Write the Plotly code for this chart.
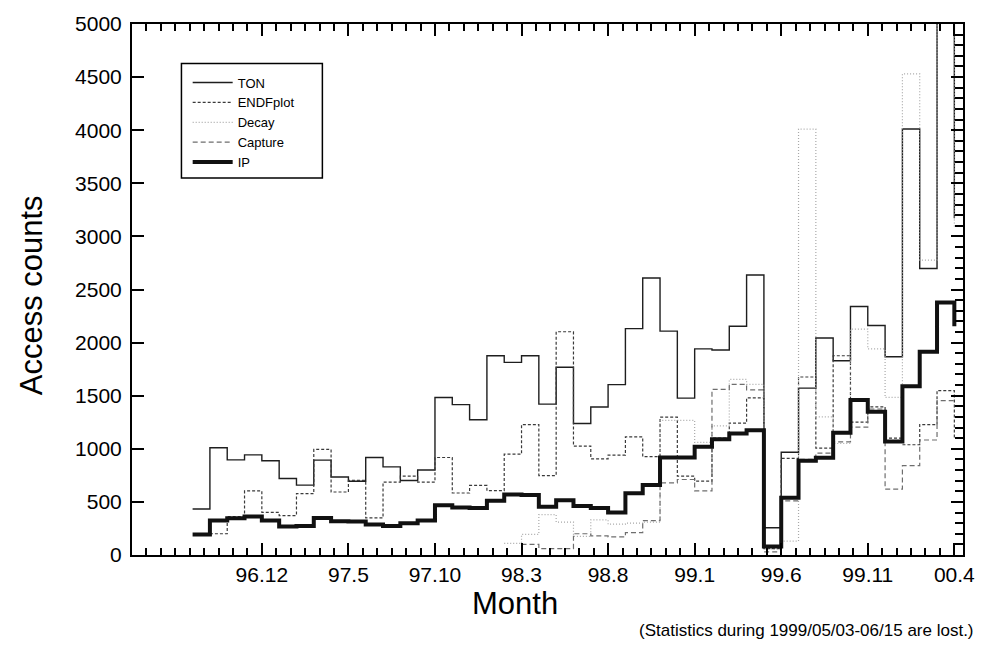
import plotly.graph_objects as go

# month index: 0 = 1996.8 (Aug 1996) ... 44 = 2000.4
months = list(range(45))

ton = [433, 1010, 896, 943, 887, 720, 658, 893, 735, 695,
       918, 830, 702, 800, 1483, 1416, 1273, 1876, 1814, 1876,
       1421, 1768, 1238, 1394, 1604, 2132, 2608, 2108, 1477, 1941,
       1931, 2154, 2636, 256, 967, 1571, 2043, 1829, 2340, 2161,
       1867, 4011, 2698, 5600, 3170]

endf = [None, 200, 362, 603, 402, 371, 578, 995, 593, 702,
        349, 686, 742, 686, 918, 584, 655, 606, 949, 1228,
        748, 2102, 1026, 906, 940, 1112, 927, 1298, 742, 695,
        1100, 1242, 1480, 60, 910, 1676, 1006, 1876, 1252, 1395,
        1100, 1038, 1228, 1548, 1100]

decay = [None, None, None, None, None, None, None, None, None, None,
         None, None, None, None, None, None, None, None, 110, 195,
         380, 309, 176, 331, 290, 300, 310, 1267, 1267, 1060,
         1215, 1653, 1607, 55, 130, 4010, 1300, 1050, 2127, 1941,
         1484, 4530, 2777, 5400, 3080]

capture = [None, None, None, None, None, None, None, None, None, None,
           None, None, None, None, None, None, None, None, None, 100,
           60, 60, 200, 180, 170, 210, 324, 680, 711, 603,
           1560, 1607, 1555, 30, 510, 900, 960, 1066, 1205, 1375,
           620, 842, 1083, 1453, 1453]

ip = [192, 324, 346, 362, 324, 269, 272, 349, 318, 315,
      287, 272, 300, 324, 468, 448, 442, 510, 570, 566,
      454, 516, 462, 442, 400, 581, 658, 918, 918, 1020,
      1091, 1143, 1174, 80, 540, 888, 916, 1150, 1459, 1350,
      1068, 1590, 1915, 2378, 2155]

tick_vals = [-1, 4, 9, 14, 19, 24, 29, 34, 39, 44]
tick_text = ['', '96.12', '97.5', '97.10', '98.3', '98.8', '99.1', '99.6', '99.11', '00.4']
y_ticks = list(range(0, 5001, 500))

FONT = 'Arial, Liberation Sans, sans-serif'

fig = go.Figure()
series = [
    ('TON', ton, dict(color='#1e1e1e', width=1.4)),
    ('ENDFplot', endf, dict(color='#3a3a3a', width=1.2, dash='3px,2px')),
    ('Decay', decay, dict(color='#a8a8a8', width=1.2, dash='1px,2px')),
    ('Capture', capture, dict(color='#6e6e6e', width=1.2, dash='5px,3px')),
    ('IP', ip, dict(color='#111111', width=4)),
]
for name, vals, line in series:
    fig.add_trace(go.Scatter(x=months, y=vals, name=name, mode='lines',
                             line_shape='hv', line=line, connectgaps=False))

fig.add_trace(go.Scatter(x=[], y=[], yaxis='y2', showlegend=False, hoverinfo='skip'))

minor_x = [-3.5 + k * 5 / 6 for k in range(58)]

fig.update_layout(
    width=987, height=652,
    margin=dict(l=132, r=20, t=16, b=97),
    paper_bgcolor='white', plot_bgcolor='white',
    font=dict(family=FONT, color='black'),
    showlegend=True,
    legend=dict(x=0.067, y=0.918, xanchor='left', yanchor='top',
                bgcolor='rgba(0,0,0,0)', borderwidth=0,
                font=dict(size=13, family=FONT), itemwidth=40,
                tracegroupgap=0),
    xaxis=dict(range=[-3.5, 44.5], tickmode='array', tickvals=tick_vals, ticktext=tick_text,
               ticks='inside', ticklen=12, tickwidth=1.5, tickcolor='black',
               showline=True, linewidth=2, linecolor='black', mirror='ticks',
               showgrid=False, zeroline=False,
               tickfont=dict(size=21, family=FONT),
               minor=dict(tickmode='array', tickvals=minor_x, ticks='inside', ticklen=7,
                          tickwidth=1.5, tickcolor='black', showgrid=False)),
    yaxis=dict(range=[0, 5000], tickmode='array', tickvals=y_ticks,
               ticks='inside', ticklen=12, tickwidth=1.5, tickcolor='black',
               showline=True, linewidth=2, linecolor='black', mirror=True,
               showgrid=False, zeroline=False, ticklabelstandoff=4,
               tickfont=dict(size=21, family=FONT)),
    yaxis2=dict(range=[0, 5000], overlaying='y', side='right', tickmode='array', tickvals=y_ticks,
                ticks='inside', ticklen=12, tickwidth=1.5, tickcolor='black',
                showline=True, linewidth=2, linecolor='black', showticklabels=False,
                showgrid=False, zeroline=False,
                minor=dict(dtick=100, tick0=0, ticks='inside', ticklen=8, tickwidth=1.5,
                           tickcolor='black', showgrid=False)),
    shapes=[dict(type='rect', xref='paper', yref='paper', x0=0.0595, x1=0.2291,
                 y0=0.710, y1=0.9258, line=dict(color='black', width=1.5))],
    annotations=[
        dict(text='Month', xref='x', yref='paper', x=18.6, y=-0.092, xanchor='center',
             yanchor='middle', showarrow=False, font=dict(size=31, family=FONT)),
        dict(text='Access counts', xref='paper', yref='paper', x=-0.121, y=0.49,
             xanchor='center', yanchor='middle', textangle=-90, showarrow=False,
             font=dict(size=31, family=FONT)),
        dict(text='(Statistics during 1999/05/03-06/15 are lost.)', xref='paper', yref='paper',
             x=1.016, y=-0.143, xanchor='right', yanchor='middle', showarrow=False,
             font=dict(size=17, family=FONT)),
    ],
)

fig.write_html('out.html', config={'displayModeBar': False},
               post_script="document.body.style.margin='0px';")
